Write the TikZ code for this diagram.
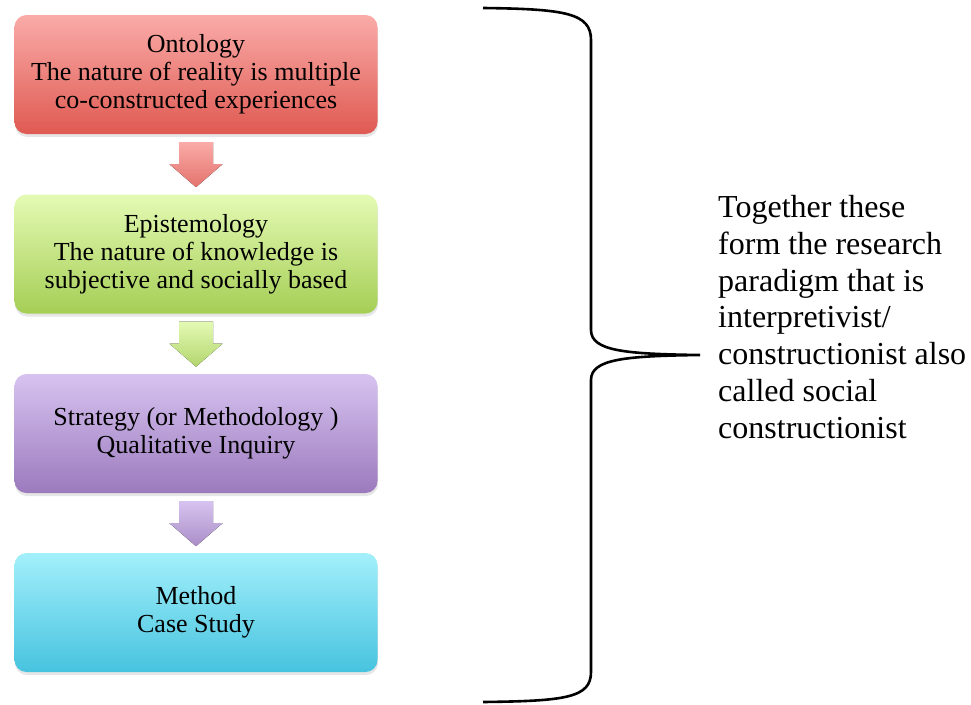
\documentclass[tikz,border=0pt]{standalone}
\usepackage{fontspec}
\setmainfont{Liberation Serif}
\usetikzlibrary{calc,shadows}
\tikzset{>=latex}
\definecolor{ontotop}{HTML}{FAABA8}
\definecolor{ontobot}{HTML}{DF5A52}
\definecolor{epistop}{HTML}{E4FAB4}
\definecolor{episbot}{HTML}{A5CE55}
\definecolor{strattop}{HTML}{D7C3F0}
\definecolor{stratbot}{HTML}{9B7ABD}
\definecolor{methtop}{HTML}{A3F0FB}
\definecolor{methbot}{HTML}{47C3DF}
\tikzstyle{stage}=[rectangle,rounded corners=12pt,minimum width=363pt,minimum height=119pt,align=center,font=\fontsize{26}{28}\selectfont,drop shadow={shadow xshift=0.5pt,shadow yshift=-3pt,opacity=0.2}]
\tikzstyle{remark}=[anchor=west,align=left,inner sep=0pt,font=\fontsize{32}{36.7}\selectfont]

% down arrow below a stage box
\newcommand{\flowarrow}[3]{%
	\fill[top color=#2,bottom color=#3] ($(#1.south)+(-17,8)$) -- ++(34,0) -- ++(0,22) -- ++(9.5,0)
		-- ($(#1.south)+(0,53)$) -- ($(#1.south)+(-26.5,30)$) -- ++(9.5,0) -- cycle;}

\begin{document}
\begin{tikzpicture}[x=1pt,y=-1pt]
	\useasboundingbox (0,0) rectangle (971,704);
	
	\node[stage, top color=ontotop, bottom color=ontobot] (onto) at (196,74.5) {Ontology\\The nature of reality is multiple\\co-constructed experiences};
	\node[stage, top color=epistop, bottom color=episbot] (epis) at (196,254) {Epistemology\\The nature of knowledge is\\subjective and socially based};
	\node[stage, top color=strattop, bottom color=stratbot] (strat) at (196,433.5) {Strategy (or Methodology )\\Qualitative Inquiry};
	\node[stage, top color=methtop, bottom color=methbot] (meth) at (196,612.5) {Method\\Case Study};
	
	\flowarrow{onto}{ontotop}{ontobot!85}
	\flowarrow{epis}{epistop}{episbot!85}
	\flowarrow{strat}{strattop}{stratbot!85}
	
	\coordinate (tip) at (700,355);
	\draw[line width=2.6pt] (483,8) .. controls (565,9) and (591,13) .. (591,40) -- (591,330)
		.. controls (591,351) and (625,354) .. (tip)
		.. controls (625,356) and (591,359) .. (591,380) -- (591,672)
		.. controls (591,698) and (565,701) .. (483,702);
	
	\node[remark] (para) at (718,317) {Together these\\form the research\\paradigm that is\\interpretivist/\\constructionist also\\called social\\constructionist};
\end{tikzpicture}
\end{document}
